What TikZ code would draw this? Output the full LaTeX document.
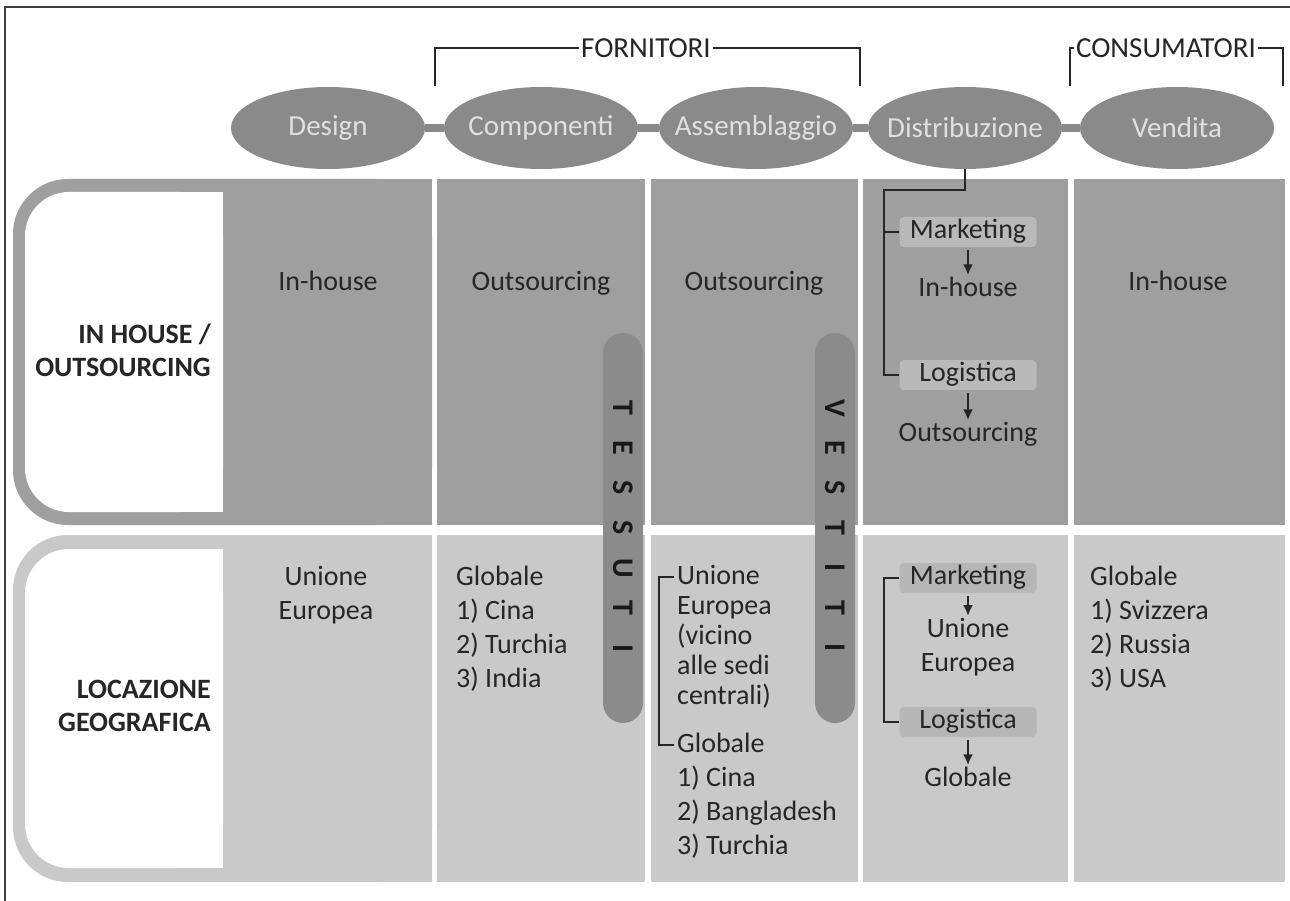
\documentclass[tikz,border=0pt]{standalone}
\usepackage{fontspec}
\setmainfont{Carlito}
\usetikzlibrary{shapes.geometric,arrows.meta}
\definecolor{rowA}{HTML}{9F9F9F}
\definecolor{rowB}{HTML}{C9C9C9}
\definecolor{ellfill}{HTML}{8A8A8A}
\definecolor{pillfill}{HTML}{8B8B8B}
\definecolor{tagA}{HTML}{B9B9B9}
\definecolor{tagB}{HTML}{B6B6B6}
\definecolor{ink}{HTML}{262626}
\newcommand\pillchar[1]{\makebox[40pt]{#1}}
\newcommand\stagelabel[1]{\makebox[0pt]{#1}}
\begin{document}
\begin{tikzpicture}[x=1pt,y=-1pt,
  stage/.style={ellipse, fill=ellfill, minimum width=194pt, minimum height=82pt,
    inner sep=0pt, text=white!88!black, font=\fontsize{29}{34}\selectfont},
  link/.style={line width=8pt, draw=ellfill},
  txt/.style={text=ink, font=\fontsize{28}{34}\selectfont, inner sep=0pt},
  one/.style={txt, text height=19pt, text depth=6pt},
  blk/.style={txt, anchor=north west, align=left},
  tag/.style={one, rounded corners=4pt, minimum width=137pt, minimum height=30pt},
  pill/.style={rounded corners=20pt, fill=pillfill, minimum width=390pt,
    minimum height=40pt, inner sep=0pt, rotate=-90, text=black!90,
    font=\bfseries\fontsize{30}{30}\selectfont},
  down/.style={-{Latex[length=11pt,width=10pt]}, line width=2.2pt, draw=ink,
    shorten <=3pt, shorten >=2pt},
  brk/.style={line width=2.4pt, draw=ink},
  hdr/.style={text=ink, font=\fontsize{29}{34}\selectfont, inner sep=2pt},
  rowlab/.style={text=ink, font=\bfseries\fontsize{28}{33}\selectfont,
    align=right, anchor=east, inner sep=0pt}]
\useasboundingbox (0,0) rectangle (1290,901);
\fill[white] (0,0) rectangle (1290,901);
\draw[line width=1.5pt, black!75] (5,901) -- (5,7) -- (1290,7);

% table cells
\foreach \l/\r in {437/645, 651/858, 863/1068, 1074/1285} {
  \fill[rowA] (\l,179) rectangle (\r,525);
  \fill[rowB] (\l,535) rectangle (\r,882);
}
% row headers: rounded frame joined to the first column
\fill[rowA, rounded corners=55pt] (13,179) rectangle (432,525);
\fill[rowA] (300,179) rectangle (432,525);
\fill[white, rounded corners=44pt] (25,192) rectangle (223,512);
\fill[white] (120,192) rectangle (223,512);
\fill[rowB, rounded corners=55pt] (13,535) rectangle (432,882);
\fill[rowB] (300,535) rectangle (432,882);
\fill[white, rounded corners=44pt] (25,549) rectangle (223,868);
\fill[white] (120,549) rectangle (223,868);

\node[rowlab] (lab1) at (211,350) {IN HOUSE /\\OUTSOURCING};
\node[rowlab] (lab2) at (211,706) {LOCAZIONE\\GEOGRAFICA};

% value chain
\node[stage] (des)  at (328,128) {\stagelabel{Design}};
\node[stage] (comp) at (541,128) {\stagelabel{Componenti}};
\node[stage] (ass)  at (756,128) {\stagelabel{Assemblaggio}};
\node[stage] (dist) at (965,128) {\stagelabel{Distribuzione}};
\node[stage] (vend) at (1177,128) {\stagelabel{Vendita}};
\foreach \a/\b in {des/comp, comp/ass, ass/dist, dist/vend}
  \draw[link] (\a) -- (\b);

% group brackets
\node[hdr] (forn) at (646,48) {FORNITORI};
\coordinate (fl) at (435,86);
\coordinate (fr) at (860,86);
\draw[brk] (forn.west) -| (fl);
\draw[brk] (forn.east) -| (fr);
\node[hdr] (cons) at (1166,48) {CONSUMATORI};
\coordinate (cl) at (1070,86);
\coordinate (cr) at (1283,86);
\draw[brk] (cons.west) -| (cl);
\draw[brk] (cons.east) -| (cr);

% vertical bands
\node[pill] (tess) at (623,528) {\pillchar{T}\pillchar{E}\pillchar{S}\pillchar{S}\pillchar{U}\pillchar{T}\pillchar{I}};
\node[pill] (vest) at (835,528) {\pillchar{V}\pillchar{E}\pillchar{S}\pillchar{T}\pillchar{I}\pillchar{T}\pillchar{I}};

% row 1
\node[one] (ih1) at (328,284) {In-house};
\node[one] (os2) at (541,284) {Outsourcing};
\node[one] (os3) at (754,284) {Outsourcing};
\node[one] (ih5) at (1178,284) {In-house};
\node[tag, fill=tagA] (mk1) at (968,232) {Marketing};
\node[one] (ih4) at (968,290) {In-house};
\node[tag, fill=tagA] (lg1) at (968,375) {Logistica};
\node[one] (os4) at (968,435) {Outsourcing};
\draw[down] (mk1.south) -- (ih4.north);
\draw[down] (lg1.south) -- (os4.north);
\coordinate (b1) at (884,190);
\draw[brk] (dist.south) |- (b1) |- (lg1.west);
\draw[brk] (b1 |- mk1.west) -- (mk1.west);

% row 2
\node[txt, align=center, anchor=north] (ue1) at (326,566) {Unione\\Europea};
\node[blk] (gl2) at (456,566) {Globale\\1) Cina\\2) Turchia\\3) India};
\node[blk, font=\fontsize{28}{30}\selectfont] (ue3) at (677,565) {Unione\\Europea\\(vicino\\alle sedi\\centrali)};
\node[blk] (gl3) at (677,733) {Globale\\1) Cina\\2) Bangladesh\\3) Turchia};
\coordinate (t3a) at (674,577);
\coordinate (t3b) at (674,745);
\draw[brk] (t3a) -| (659,661) |- (t3b);
\node[tag, fill=tagB] (mk2) at (968,578) {Marketing};
\node[txt, align=center, anchor=north] (ue4) at (968,618) {Unione\\Europea};
\node[tag, fill=tagB] (lg2) at (968,722) {Logistica};
\node[one] (gl4) at (968,780) {Globale};
\draw[down] (mk2.south) -- (ue4.north);
\draw[down] (lg2.south) -- (gl4.north);
\coordinate (b2) at (884,650);
\draw[brk] (mk2.west) -| (b2) |- (lg2.west);
\node[blk] (gl5) at (1090,566) {Globale\\1) Svizzera\\2) Russia\\3) USA};
\end{tikzpicture}
\end{document}
